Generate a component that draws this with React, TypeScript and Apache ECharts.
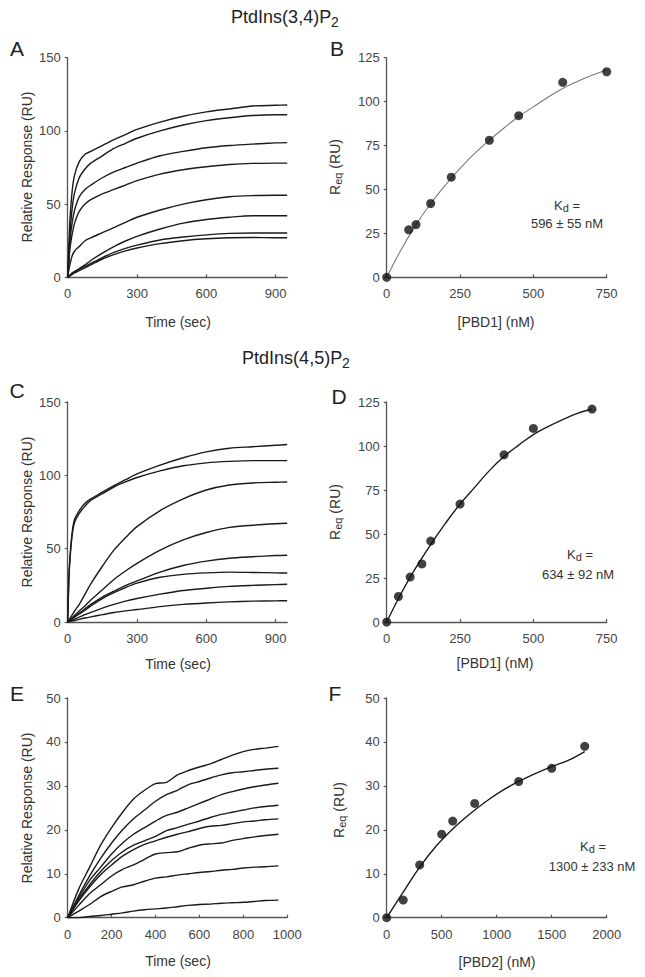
import React, { useEffect, useRef } from "react";
import * as echarts from "echarts";

const FONT = "'Liberation Sans', Arial, Helvetica, sans-serif";

// ---------- Panel A: PtdIns(3,4)P2 sensorgrams ----------
const timeAC = [0, 5, 10, 20, 30, 50, 75, 100, 150, 200, 250, 300, 400, 500, 600, 700, 800, 900, 950];
const curvesA = [
  [0, 22, 40, 60, 70, 79, 84, 86, 90, 94, 97.5, 101, 106, 110, 113, 115, 117, 117.5, 117.7],
  [0, 15, 30, 48, 58, 68, 74, 78, 83, 88, 91.5, 95, 100, 104, 107, 109, 110.5, 111, 111],
  [0, 12, 25, 38, 46, 55, 60, 63, 68, 72, 75, 78, 83, 86, 88.5, 90, 91, 91.8, 92],
  [0, 10, 20, 30, 37, 45, 50, 53, 57, 60, 63, 66, 70.5, 73.5, 75.5, 77, 77.8, 78, 78],
  [0, 5, 9, 15, 18, 21, 25, 27, 30.5, 34, 37.5, 41, 46, 50, 53, 55, 55.8, 56, 56],
  [0, 0.8, 1.5, 3, 4, 6, 8.5, 11.5, 16.5, 21, 24.8, 28, 33, 37, 39.5, 41, 42, 42, 42],
  [0, 0.6, 1.2, 2.5, 3.5, 5.5, 7.5, 9.5, 13.5, 17, 19.8, 22, 25.5, 27.5, 29, 30, 30.3, 30.3, 30.3],
  [0, 0.5, 1, 2, 3, 4.5, 6.5, 8.5, 12.5, 15.5, 18, 20, 23, 25, 26.3, 27, 27.2, 27, 27],
];

// ---------- Panel B ----------
const concB = [0, 75, 100, 150, 220, 350, 450, 600, 750];
const reqB = [0, 27, 30, 42, 57, 78, 92, 111, 117];
const fitXB = [0, 50, 100, 150, 200, 250, 300, 350, 400, 450, 500, 550, 600, 650, 700, 750];
const fitYB = [0, 16, 30, 42, 52.5, 62, 70.5, 78, 85, 91.5, 97, 102.5, 107.5, 111.5, 115, 118];

// ---------- Panel C: PtdIns(4,5)P2 sensorgrams ----------
const curvesC = [
  [0, 30, 45, 62, 70, 76, 81, 84, 88.5, 93, 97, 101, 107, 112, 116, 118.5, 119.5, 120.5, 121],
  [0, 28, 43, 60, 68, 74, 79, 83, 87.5, 92, 95.5, 98.5, 103, 106.5, 108.5, 109.5, 110, 110, 110],
  [0, 1, 2.5, 5, 7.5, 12, 19, 26, 38, 49, 57.5, 65, 76, 84, 90, 93.4, 94.8, 95.3, 95.5],
  [0, 0.8, 1.6, 3, 4.5, 7.5, 11, 15, 22, 29, 34.8, 40, 49, 56, 61, 64.5, 66, 67, 67.3],
  [0, 0.6, 1.2, 2.5, 3.8, 6, 9, 12, 17, 21, 24.8, 28, 34, 38.5, 41.5, 43.5, 44.5, 45.3, 45.5],
  [0, 0.6, 1.2, 2.3, 3.5, 5.5, 8, 11, 16, 20, 23.5, 26.5, 30.5, 32.5, 33.5, 34, 33.8, 33.5, 33.4],
  [0, 0.3, 0.7, 1.3, 2, 3.3, 5, 6.5, 9.5, 12, 14.2, 16, 19, 21.5, 23, 24.3, 25, 25.5, 25.7],
  [0, 0.2, 0.4, 0.7, 1, 1.8, 2.7, 3.5, 5, 6.5, 7.6, 8.5, 10.5, 12, 13, 13.7, 14.2, 14.4, 14.5],
];

// ---------- Panel D ----------
const concD = [0, 40, 80, 120, 150, 250, 400, 500, 700];
const reqD = [0, 14.5, 25.5, 33, 46, 67, 95, 110, 121];
const fitXD = [0, 50, 100, 150, 200, 250, 300, 350, 400, 450, 500, 550, 600, 650, 700];
const fitYD = [0, 16.5, 31, 44, 56, 67, 76.5, 86, 94, 100.5, 106.5, 111, 115, 118.5, 121];

// ---------- Panel E ----------
const timeE = [0, 50, 100, 150, 200, 250, 300, 350, 400, 450, 500, 550, 600, 650, 700, 750, 800, 850, 900, 960];
const curvesE = [
  [0, 6.5, 11.5, 16.5, 20.5, 24, 27, 29, 30.5, 30.8, 32.5, 33.5, 34.3, 35, 36, 37, 37.8, 38.3, 38.6, 39],
  [0, 5, 9.5, 13.5, 17, 20, 22.5, 24.5, 26.5, 28, 29, 30.3, 31, 31.8, 32.5, 33, 33.2, 33.5, 33.8, 34],
  [0, 4.5, 8.5, 11.5, 14.5, 17, 19, 20.5, 22, 23.3, 24, 25, 26, 27, 28, 28.7, 29.3, 29.8, 30.2, 30.6],
  [0, 4, 7.5, 10.5, 13, 15, 16.5, 17.5, 18.5, 19.8, 20.5, 21.3, 22, 22.8, 23.5, 24, 24.5, 25, 25.3, 25.6],
  [0, 3.8, 7, 9.8, 12, 14, 15.5, 16.7, 17.5, 18.3, 19, 19.6, 20.3, 20.8, 21, 21.4, 21.8, 22, 22.3, 22.5],
  [0, 2.8, 5.5, 7.5, 9.5, 11, 12, 13.3, 14.5, 14.8, 15, 15.8, 16.5, 16.8, 17, 17.6, 18, 18.4, 18.7, 19],
  [0, 1.5, 3, 4.8, 6, 7, 7.5, 8.3, 9, 9.3, 9.7, 10, 10.3, 10.5, 10.8, 11, 11.3, 11.5, 11.6, 11.8],
  [0, 0, 0.3, 0.5, 0.8, 1.1, 1.5, 1.8, 2, 2.2, 2.5, 2.8, 3, 3.1, 3.3, 3.4, 3.5, 3.7, 3.9, 4],
];

// ---------- Panel F ----------
const concF = [0, 150, 300, 500, 600, 800, 1200, 1500, 1800];
const reqF = [0, 4, 12, 19, 22, 26, 31, 34, 39];
const fitXF = [0, 150, 300, 450, 600, 750, 900, 1050, 1200, 1350, 1500, 1650, 1800];
const fitYF = [0, 5.8, 11.5, 16.3, 20.2, 23.5, 26.4, 28.9, 31, 32.8, 34.4, 35.8, 37.8];

// tick labels
const ticksX_AC = [0, 300, 600, 900];
const ticksX_BD = [0, 250, 500, 750];
const ticksX_E = [0, 200, 400, 600, 800, 1000];
const ticksX_F = [0, 500, 1000, 1500, 2000];

const zip = (xs: number[], ys: number[]) => xs.map((x, i) => [x, ys[i]]);

const AXIS_COLOR = "#555";
const LABEL_COLOR = "#444";

function xAxis(gridIndex: number, max: number, ticks: number[]) {
  return {
    type: "value",
    gridIndex,
    min: 0,
    max,
    axisLine: { show: true, onZero: false, lineStyle: { color: AXIS_COLOR, width: 1.3 } },
    axisTick: { show: true, inside: true, length: 3, customValues: ticks, lineStyle: { color: AXIS_COLOR, width: 1.2 } },
    axisLabel: {
      customValues: ticks,
      margin: 10,
      fontSize: 13,
      color: LABEL_COLOR,
      fontFamily: FONT,
      formatter: (v: number) => String(v),
    },
    splitLine: { show: false },
  };
}

function yAxis(gridIndex: number, max: number, interval: number) {
  return {
    type: "value",
    gridIndex,
    min: 0,
    max,
    interval,
    axisLine: { show: true, onZero: false, lineStyle: { color: AXIS_COLOR, width: 1.3 } },
    axisTick: { show: true, inside: false, length: 3, lineStyle: { color: AXIS_COLOR, width: 1.2 } },
    axisLabel: { margin: 7, fontSize: 13, color: LABEL_COLOR, fontFamily: FONT, formatter: (v: number) => String(v) },
    splitLine: { show: false },
  };
}

function kinetic(idx: number, xs: number[], curves: number[][]) {
  return curves.map((c) => ({
    type: "line",
    xAxisIndex: idx,
    yAxisIndex: idx,
    data: zip(xs, c),
    smooth: 0.3,
    showSymbol: false,
    lineStyle: { color: "#1a1a1a", width: 1.4 },
    silent: true,
  }));
}

function binding(idx: number, cx: number[], cy: number[], fx: number[], fy: number[], fitColor: string, fitWidth: number) {
  return [
    {
      type: "line",
      xAxisIndex: idx,
      yAxisIndex: idx,
      data: zip(fx, fy),
      smooth: 0.4,
      showSymbol: false,
      lineStyle: { color: fitColor, width: fitWidth },
      z: 2,
    },
    {
      type: "scatter",
      xAxisIndex: idx,
      yAxisIndex: idx,
      data: zip(cx, cy),
      symbolSize: 9,
      itemStyle: { color: "#111" },
      z: 3,
    },
  ];
}

const rich = {
  a: { fontSize: 13, fontFamily: FONT, fill: "#333", color: "#333" },
  s: { fontSize: 11, fontFamily: FONT, fill: "#333", color: "#333", padding: [5, 0, 0, 0] },
  b: { fontSize: 14, fontFamily: FONT, fill: "#333", color: "#333" },
  bs: { fontSize: 11, fontFamily: FONT, fill: "#333", color: "#333", padding: [5, 0, 0, 0] },
  ta: { fontSize: 18, fontFamily: FONT, fill: "#222", color: "#222" },
  ts: { fontSize: 14, fontFamily: FONT, fill: "#222", color: "#222", padding: [9, 0, 0, 0] },
};

function txt(x: number, y: number, text: string, size: number, opts: any = {}) {
  return {
    type: "text",
    x,
    y,
    rotation: opts.rotation || 0,
    style: {
      text,
      fill: opts.fill || "#333",
      font: `${size}px ${FONT}`,
      fontSize: size,
      fontFamily: FONT,
      align: opts.align || "center",
      textAlign: opts.align || "center",
      verticalAlign: "middle",
      textVerticalAlign: "middle",
      rich,
    },
  };
}

export default function App() {
  const ref = useRef<HTMLDivElement>(null);
  useEffect(() => {
    if (!ref.current) return;
    const chart = echarts.init(ref.current, null, { renderer: "svg" });
    const gL = 67.7, gR = 386.7, gW = 219.5;
    const option: any = {
      animation: false,
      backgroundColor: "#fff",
      grid: [
        { left: gL, top: 57.7, width: gW, height: 219.6 },
        { left: gR, top: 57.7, width: 220, height: 219.6 },
        { left: gL, top: 402, width: gW, height: 220 },
        { left: gR, top: 402, width: 220, height: 220 },
        { left: gL, top: 698, width: gW, height: 219.7 },
        { left: gR, top: 698, width: 220, height: 219.7 },
      ],
      xAxis: [
        xAxis(0, 950, ticksX_AC),
        xAxis(1, 750, ticksX_BD),
        xAxis(2, 950, ticksX_AC),
        xAxis(3, 750, ticksX_BD),
        xAxis(4, 1000, ticksX_E),
        xAxis(5, 2000, ticksX_F),
      ],
      yAxis: [
        yAxis(0, 150, 50),
        yAxis(1, 125, 25),
        yAxis(2, 150, 50),
        yAxis(3, 125, 25),
        yAxis(4, 50, 10),
        yAxis(5, 50, 10),
      ],
      series: [
        ...kinetic(0, timeAC, curvesA),
        ...binding(1, concB, reqB, fitXB, fitYB, "#7a7a7a", 1.1),
        ...kinetic(2, timeAC, curvesC),
        ...binding(3, concD, reqD, fitXD, fitYD, "#1a1a1a", 1.4),
        ...kinetic(4, timeE, curvesE),
        ...binding(5, concF, reqF, fitXF, fitYF, "#1a1a1a", 1.4),
      ],
      graphic: [
        // section titles
        txt(285, 17, "{ta|PtdIns(3,4)P}{ts|2}", 18),
        txt(296, 358, "{ta|PtdIns(4,5)P}{ts|2}", 18),
        // panel letters
        txt(17, 48, "A", 21, { fill: "#222" }),
        txt(337, 48, "B", 21, { fill: "#222" }),
        txt(17, 390, "C", 21, { fill: "#222" }),
        txt(339, 396, "D", 21, { fill: "#222" }),
        txt(17, 693, "E", 21, { fill: "#222" }),
        txt(335, 693, "F", 21, { fill: "#222" }),
        // y axis titles
        txt(27, 167, "Relative Response (RU)", 14, { rotation: Math.PI / 2 }),
        txt(27, 512, "Relative Response (RU)", 14, { rotation: Math.PI / 2 }),
        txt(27, 808, "Relative Response (RU)", 14, { rotation: Math.PI / 2 }),
        txt(335, 167, "{b|R}{bs|eq}{b| (RU)}", 14, { rotation: Math.PI / 2 }),
        txt(335, 512, "{b|R}{bs|eq}{b| (RU)}", 14, { rotation: Math.PI / 2 }),
        txt(339, 810, "{b|R}{bs|eq}{b| (RU)}", 14, { rotation: Math.PI / 2 }),
        // x axis titles
        txt(178, 322, "Time (sec)", 14),
        txt(178, 664, "Time (sec)", 14),
        txt(178, 961, "Time (sec)", 14),
        txt(496, 322, "[PBD1] (nM)", 14),
        txt(495, 663, "[PBD1] (nM)", 14),
        txt(497, 962, "[PBD2] (nM)", 14),
        // Kd annotations
        txt(567, 205, "{a|K}{s|d}{a| =}", 13),
        txt(567, 223, "596 ± 55 nM", 13),
        txt(580, 554, "{a|K}{s|d}{a| =}", 13),
        txt(578, 574, "634 ± 92 nM", 13),
        txt(593, 846, "{a|K}{s|d}{a| =}", 13),
        txt(592, 866, "1300 ± 233 nM", 13),
      ],
    };
    chart.setOption(option);
    return () => chart.dispose();
  }, []);
  return (
    <div
      ref={ref}
      style={{ position: "absolute", left: 0, top: 0, width: 645, height: 977, background: "#fff" }}
    />
  );
}
